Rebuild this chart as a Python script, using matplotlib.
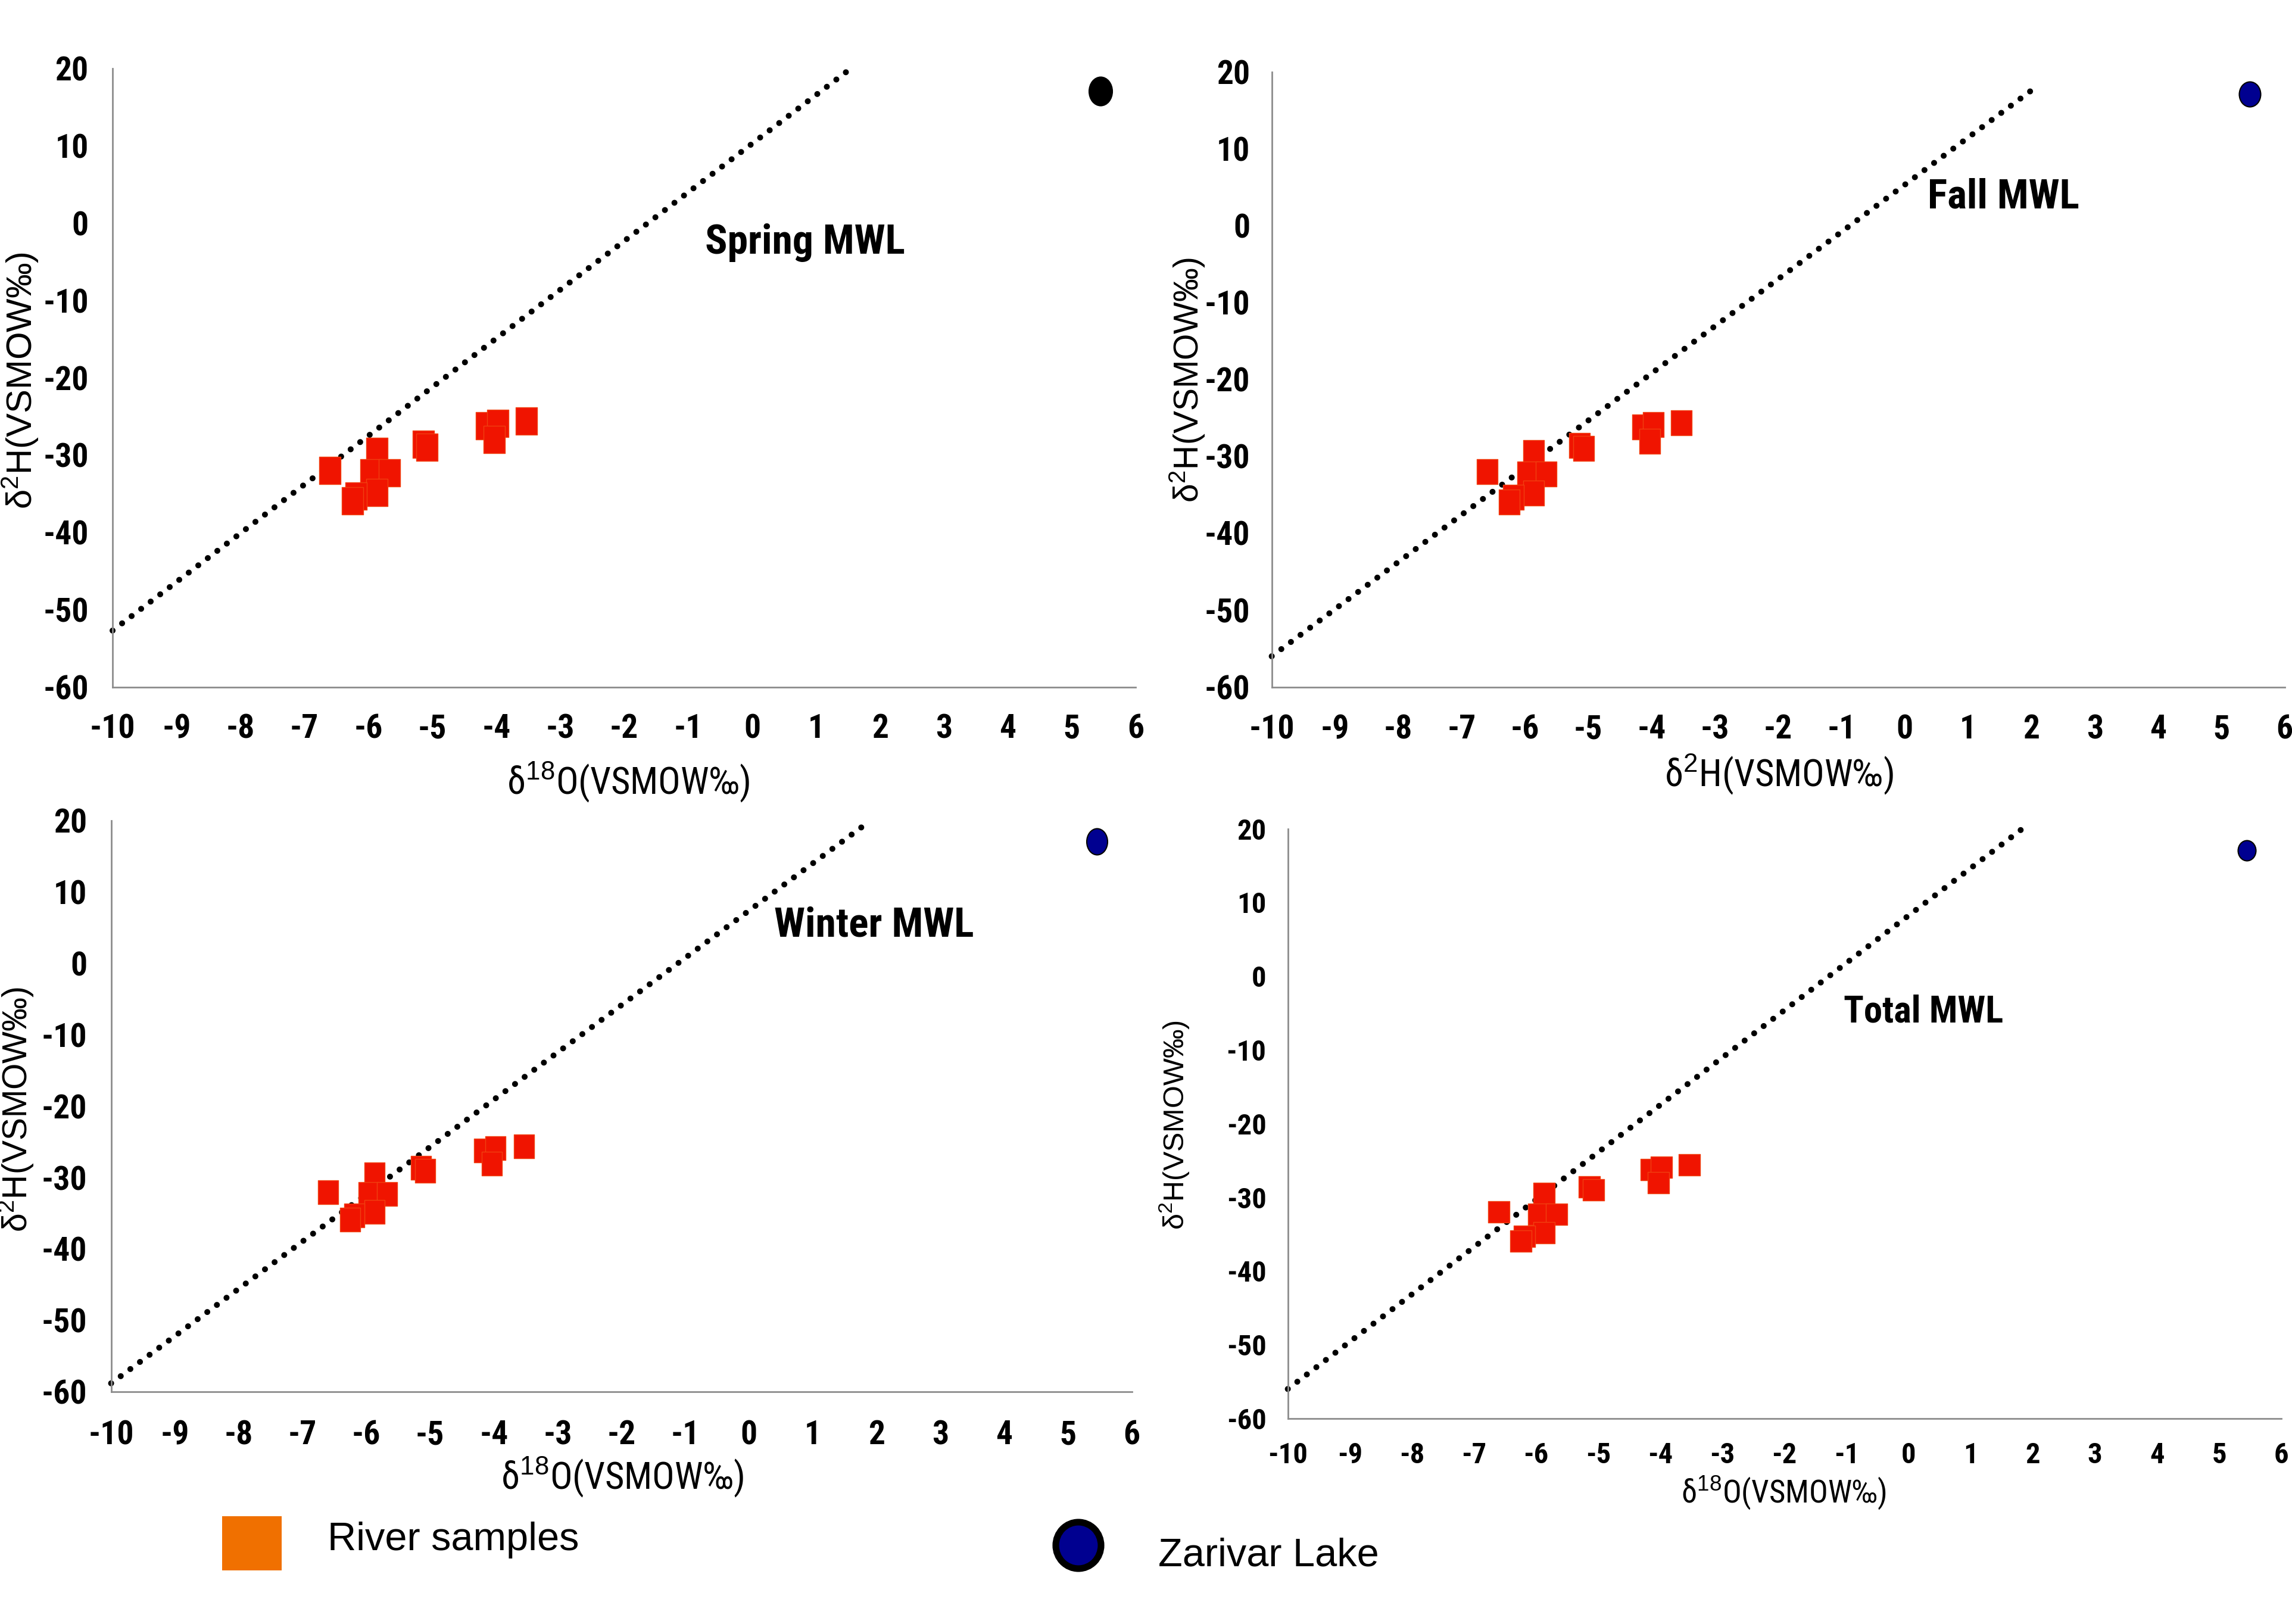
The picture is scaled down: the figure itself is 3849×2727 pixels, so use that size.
import matplotlib
matplotlib.use("Agg")
import matplotlib.pyplot as plt
from matplotlib import font_manager
from matplotlib.path import Path
from matplotlib.transforms import Affine2D
from matplotlib.patches import Rectangle, Ellipse

# river samples (same set in every panel)
river_d18o = [-6.60, -5.87, -5.96, -5.67, -5.87, -6.19, -6.25, -5.14, -5.08, -4.15, -3.98, -4.03, -3.53]
river_d2h = [-32.0, -29.5, -32.3, -32.3, -34.8, -35.3, -35.9, -28.6, -29.0, -26.2, -25.9, -28.0, -25.6]

# Zarivar Lake
lake_d18o = [5.45]
lake_d2h = [17.1]

# meteoric water lines, end points per panel
panel_names = ["Spring MWL", "Fall MWL", "Winter MWL", "Total MWL"]
mwl_x = [[-10, 1.54], [-10, 2.03], [-10, 1.90], [-10, 1.83]]
mwl_y = [[-52.7, 20.0], [-56.0, 17.8], [-58.8, 20.0], [-56.0, 20.0]]
name_pos = [(0.83, -2.5), (1.56, 3.7), (1.96, 5.3), (0.24, -4.9)]

x_labels = [r"δ$^{18}$O(VSMOW‰)", r"δ$^{2}$H(VSMOW‰)", r"δ$^{18}$O(VSMOW‰)", r"δ$^{18}$O(VSMOW‰)"]
y_label = r"δ$^{2}$H(VSMOW‰)"

x_ticks = list(range(-10, 7))
y_ticks = list(range(-60, 21, 10))

# condensed face for the tick labels and panel names
names = {f.name for f in font_manager.fontManager.ttflist}
NARROW = "Liberation Sans"
for n in ["Liberation Sans Narrow", "Arial Narrow", "Nimbus Sans Narrow", "Roboto Condensed",
          "Archivo Narrow"]:
    if n in names:
        NARROW = n
        break
REG = "Liberation Sans"

plt.rcParams["font.family"] = [REG, "DejaVu Sans"]
plt.rcParams["mathtext.fontset"] = "custom"
plt.rcParams["mathtext.rm"] = REG
plt.rcParams["mathtext.it"] = REG
plt.rcParams["axes.unicode_minus"] = False

W, H = 1568.0, 1111.0  # layout measured on a 1568 px wide copy

# px: left, right, top, bottom of each plot area
panels = [
    dict(px=(77, 777, 47, 470), xlab=(0.504, -0.154), ylab=(-0.090, 0.496),
         tick=40, xpad=32, ypad=29, name_fs=50, xlab_fs=45, ylab_fs=43,
         sq=(37, 47), lake=(39, 48), lake_face="black"),
    dict(px=(870, 1563, 49.3, 470), xlab=(0.501, -0.143), ylab=(-0.083, 0.499),
         tick=40, xpad=33, ypad=26, name_fs=50, xlab_fs=45, ylab_fs=41,
         sq=(35, 42), lake=(36, 42), lake_face="#000090"),
    dict(px=(76, 774.3, 561.5, 952.2), xlab=(0.501, -0.150), ylab=(-0.093, 0.495),
         tick=40, xpad=34, ypad=29, name_fs=50, xlab_fs=45, ylab_fs=41,
         sq=(34, 40), lake=(35, 44), lake_face="#000090"),
    dict(px=(881, 1560.6, 567, 970.4), xlab=(0.499, -0.125), ylab=(-0.114, 0.498),
         tick=35, xpad=28, ypad=26, name_fs=45, xlab_fs=38, ylab_fs=35,
         sq=(36, 36), lake=(30, 34), lake_face="#000090"),
]


def rect_marker(w, h):
    return Path([(-w / 2, -h / 2), (w / 2, -h / 2), (w / 2, h / 2), (-w / 2, h / 2), (-w / 2, -h / 2)],
                closed=True)


def oval_marker(w, h):
    return Path.unit_circle().transformed(Affine2D().scale(w / 2, h / 2))


fig = plt.figure(figsize=(38.49, 27.27), dpi=100)

for i, p in enumerate(panels):
    l, r, t, b = p["px"]
    ax = fig.add_axes([l / W, 1 - b / H, (r - l) / W, (b - t) / H])

    ax.plot(mwl_x[i], mwl_y[i], color="black", linewidth=7.2,
            linestyle=(0, (0.01, 2.0)), dash_capstyle="round", clip_on=False, zorder=2)

    sw, sh = p["sq"]
    ax.plot(river_d18o, river_d2h, linestyle="none", marker=rect_marker(sw, sh),
            markersize=max(sw, sh) * 0.72, markerfacecolor="#F01400",
            markeredgecolor="#F04010", markeredgewidth=1, zorder=3)

    lw_, lh_ = p["lake"]
    ax.plot(lake_d18o, lake_d2h, linestyle="none", marker=oval_marker(lw_, lh_),
            markersize=max(lw_, lh_) * 0.72, markerfacecolor=p["lake_face"],
            markeredgecolor="black", markeredgewidth=1.5, zorder=3, clip_on=False)

    ax.text(name_pos[i][0], name_pos[i][1], panel_names[i], ha="center", va="center",
            fontsize=p["name_fs"], fontweight="bold", family=[NARROW, REG, "DejaVu Sans"])

    ax.set_xlim(-10, 6)
    ax.set_ylim(-60, 20)
    ax.set_xticks(x_ticks)
    ax.set_yticks(y_ticks)

    for s in ["top", "right"]:
        ax.spines[s].set_visible(False)
    for s in ["left", "bottom"]:
        ax.spines[s].set_color("#8c8c8c")
        ax.spines[s].set_linewidth(2)

    ax.tick_params(axis="x", length=0, pad=p["xpad"])
    ax.tick_params(axis="y", length=0, pad=p["ypad"])
    for lab in ax.get_xticklabels() + ax.get_yticklabels():
        lab.set_fontfamily([NARROW, REG, "DejaVu Sans"])
        lab.set_fontweight("bold")
        lab.set_fontsize(p["tick"])

    ax.set_xlabel(x_labels[i], fontsize=p["xlab_fs"], family=[NARROW, REG, "DejaVu Sans"])
    ax.xaxis.set_label_coords(*p["xlab"])
    ax.xaxis.label.set_verticalalignment("center")
    ax.set_ylabel(y_label, fontsize=p["ylab_fs"])
    ax.yaxis.set_label_coords(*p["ylab"])
    ax.yaxis.label.set_verticalalignment("center")

# legend at the bottom
FW, FH = 3849.0, 2727.0
fig.add_artist(Rectangle((373 / FW, 1 - 2637 / FH), 100 / FW, 91 / FH,
                         transform=fig.transFigure, facecolor="#F07000", edgecolor="none"))
fig.text(550 / FW, 1 - 2603 / FH, "River samples", fontsize=48, va="baseline", ha="left")
fig.add_artist(Ellipse((1811 / FW, 1 - 2595 / FH), 76 / FW, 78 / FH,
                       transform=fig.transFigure, facecolor="#000090", edgecolor="black",
                       linewidth=8))
fig.text(1945 / FW, 1 - 2630 / FH, "Zarivar Lake", fontsize=48, va="baseline", ha="left")

fig.savefig("out.png", dpi=100)
